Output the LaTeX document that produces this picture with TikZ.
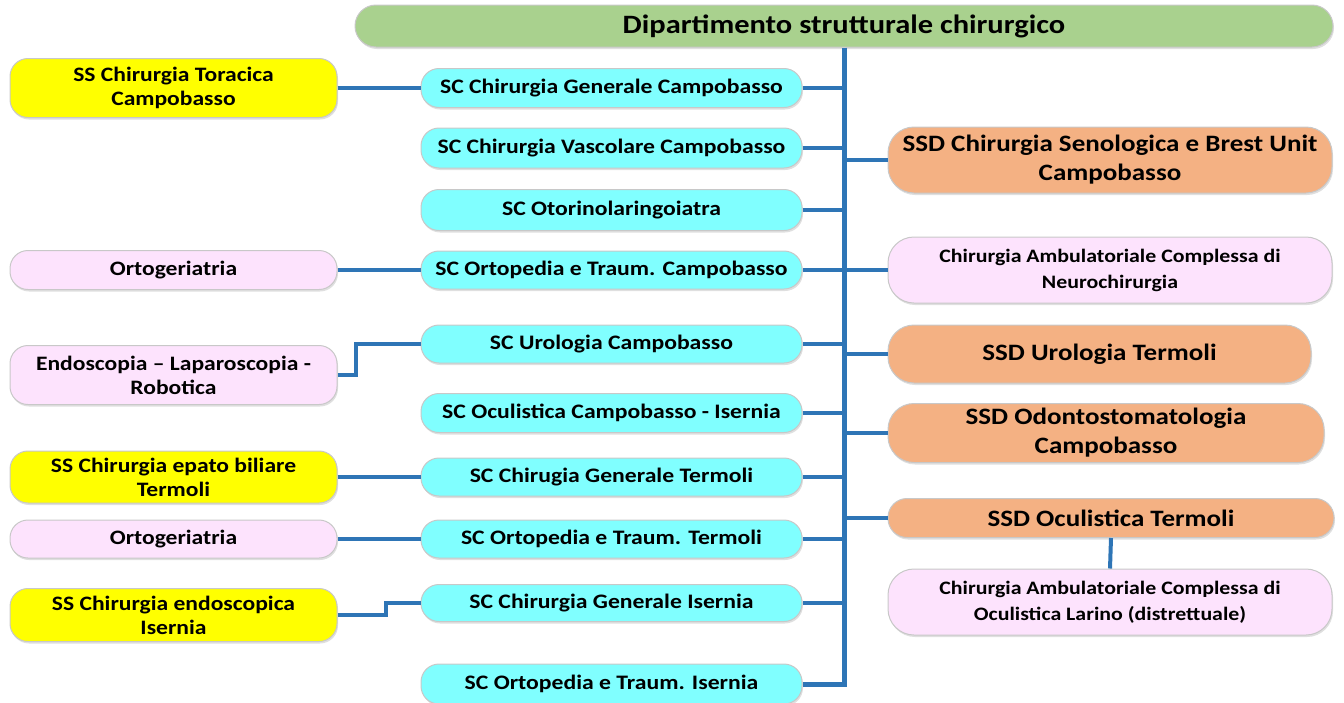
\documentclass[tikz,border=0pt]{standalone}
\usepackage{fontspec}
\setmainfont{Carlito}[FakeStretch=1.15]
\usetikzlibrary{shadows}
\definecolor{verde}{HTML}{A9D18E}
\definecolor{ciano}{HTML}{80FFFF}
\definecolor{giallo}{HTML}{FFFF00}
\definecolor{rosa}{HTML}{FDE3FD}
\definecolor{arancio}{HTML}{F4B183}
\definecolor{bordo}{HTML}{C8C8C8}
\definecolor{linea}{HTML}{2E75B6}

\begin{document}
\begin{tikzpicture}[x=1pt,y=-1pt]
\tikzstyle{box}=[draw=bordo,line width=1pt,rounded corners=18pt,align=center,inner sep=0pt,font=\bfseries,
  drop shadow={shadow xshift=1pt,shadow yshift=-2pt,opacity=0.25}]
\tikzstyle{sx}=[box,fill=giallo,minimum width=327pt,font=\bfseries\fontsize{20.5}{24}\selectfont]
\tikzstyle{sxr}=[sx,fill=rosa]
\tikzstyle{sc}=[box,fill=ciano,minimum width=381pt,font=\bfseries\fontsize{20.6}{24}\selectfont]
\tikzstyle{ssd}=[box,fill=arancio,rounded corners=26pt,font=\bfseries\fontsize{23.5}{29}\selectfont]
\tikzstyle{dx}=[box,fill=rosa,rounded corners=26pt,minimum width=444pt,font=\bfseries\fontsize{19}{26}\selectfont]
\tikzstyle{link}=[draw=linea,line width=4.5pt]
\useasboundingbox (0,0) rectangle (1344,702);
\node[box,fill=verde,minimum width=978pt,minimum height=42pt,rounded corners=21pt,font=\bfseries\fontsize{26.5}{30}\selectfont](top) at (844,26) {Dipartimento strutturale chirurgico};
% strutture complesse
\node[sc,minimum height=39pt](c1) at (611.5,88) {SC Chirurgia Generale Campobasso};
\node[sc,minimum height=40pt](c2) at (611.5,148) {SC Chirurgia Vascolare Campobasso};
\node[sc,minimum height=41pt](c3) at (611.5,210) {SC Otorinolaringoiatra};
\node[sc,minimum height=38pt](c4) at (611.5,270) {SC Ortopedia e Traum. Campobasso};
\node[sc,minimum height=38pt](c5) at (611.5,344) {SC Urologia Campobasso};
\node[sc,minimum height=39pt](c6) at (611.5,413) {SC Oculistica Campobasso - Isernia};
\node[sc,minimum height=38pt](c7) at (611.5,477) {SC Chirugia Generale Termoli};
\node[sc,minimum height=38pt](c8) at (611.5,539) {SC Ortopedia e Traum. Termoli};
\node[sc,minimum height=37pt](c9) at (611.5,603) {SC Chirurgia Generale Isernia};
\node[sc,minimum height=40pt](c10) at (611.5,684) {SC Ortopedia e Traum. Isernia};
% strutture semplici
\node[sx,minimum height=59pt](l1) at (173.5,88) {SS Chirurgia Toracica\\Campobasso};
\node[sxr,minimum height=39pt](l2) at (173.5,270) {Ortogeriatria};
\node[sxr,minimum height=59pt](l3) at (173.5,375) {Endoscopia -- Laparoscopia -\\Robotica};
\node[sx,minimum height=52pt](l4) at (173.5,477) {SS Chirurgia epato biliare\\Termoli};
\node[sxr,minimum height=38pt](l5) at (173.5,539) {Ortogeriatria};
\node[sx,minimum height=53pt](l6) at (173.5,615) {SS Chirurgia endoscopica\\Isernia};
% strutture dipartimentali
\node[ssd,minimum width=444pt,minimum height=66pt](r1) at (1110,160) {SSD Chirurgia Senologica e Brest Unit\\Campobasso};
\node[dx,minimum height=66pt](r2) at (1110,270) {Chirurgia Ambulatoriale Complessa di\\Neurochirurgia};
\node[ssd,minimum width=423pt,minimum height=58pt](r3) at (1099.5,354) {SSD Urologia Termoli};
\node[ssd,minimum width=436pt,minimum height=59pt](r4) at (1106,433) {SSD Odontostomatologia\\Campobasso};
\node[ssd,minimum width=446pt,minimum height=39pt,rounded corners=19pt](r5) at (1111,518) {SSD Oculistica Termoli};
\node[dx,minimum height=66pt](r6) at (1110,602) {Chirurgia Ambulatoriale Complessa di\\Oculistica Larino (distrettuale)};
% collegamenti
\draw[link,line width=5pt] (top.south) |- (c10.east);
\foreach \i in {1,...,9}
  \draw[link] (c\i.east) -- (c\i.east -| top.south);
\foreach \i in {1,...,5}
  \draw[link] (r\i.west) -- (r\i.west -| top.south);
\draw[link,line width=4pt] (l1.east) -- (c1.west);
\draw[link,line width=4pt] (l2.east) -- (c4.west);
\draw[link,line width=4pt] (l3.east) -- ++(18,0) |- (c5.west);
\draw[link,line width=4pt] (l4.east) -- (c7.west);
\draw[link,line width=4pt] (l5.east) -- (c8.west);
\draw[link,line width=4pt] (l6.east) -- ++(48,0) |- (c9.west);
\draw[link,line width=4pt] (r5.south) -- (r6.north);
\end{tikzpicture}
\end{document}
